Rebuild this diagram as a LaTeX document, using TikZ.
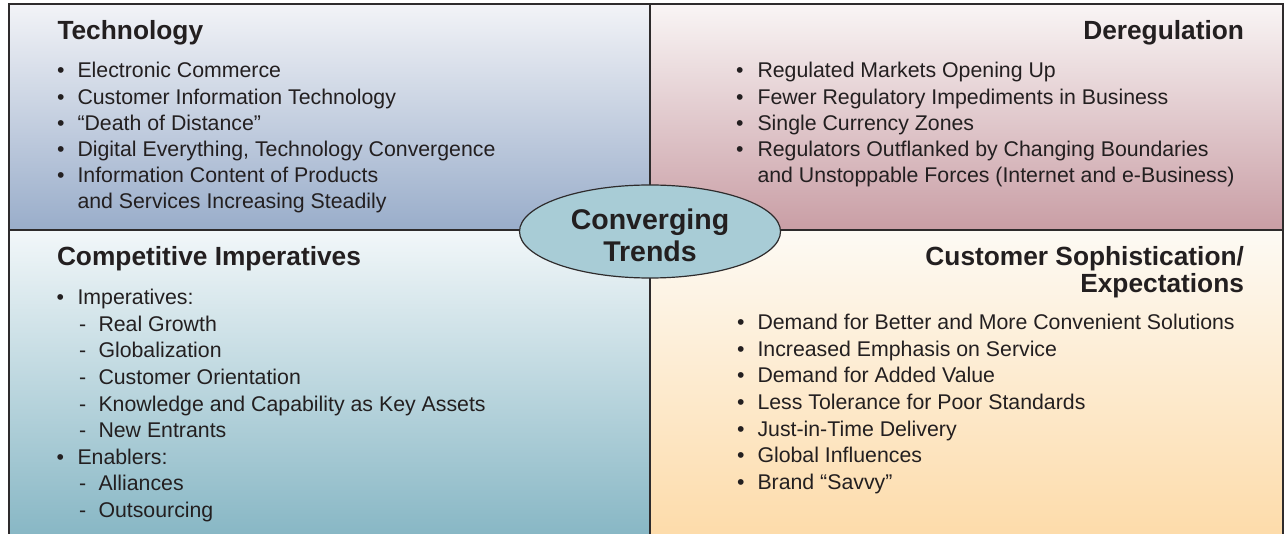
\documentclass[tikz,border=0pt]{standalone}
\usepackage{fontspec}
\setmainfont{Liberation Sans}
\usetikzlibrary{shapes.geometric}
\definecolor{ink}{HTML}{231F20}
\definecolor{frame}{HTML}{2E2B2C}
\definecolor{tltop}{HTML}{F2F3F7}
\definecolor{tlbot}{HTML}{99ADCA}
\definecolor{trtop}{HTML}{F9F5F5}
\definecolor{trbot}{HTML}{C99EA5}
\definecolor{bltop}{HTML}{F2F7F9}
\definecolor{blbot}{HTML}{86B6C4}
\definecolor{brtop}{HTML}{FDFAF4}
\definecolor{brbot}{HTML}{FDDBA9}
\definecolor{ellfill}{HTML}{A8CCD6}
\tikzset{
  txt/.style={anchor=base west, inner sep=0pt, outer sep=0pt, text=ink, font=\fontsize{21.3}{21.3}\selectfont},
  hdl/.style={anchor=base west, inner sep=0pt, outer sep=0pt, text=ink, font=\fontsize{26.3}{26.3}\selectfont\bfseries},
  hdr/.style={anchor=base east, inner sep=0pt, outer sep=0pt, text=ink, font=\fontsize{26.3}{26.3}\selectfont\bfseries},
  border/.style={draw=frame, line width=1.3pt},
}
\begin{document}
\begin{tikzpicture}[x=1pt, y=-1pt]
\useasboundingbox (0,0) rectangle (1285,534);
% quadrants
\shade[top color=tltop, bottom color=tlbot] (9,4) rectangle (650,230);
\shade[top color=trtop, bottom color=trbot] (650,4) rectangle (1283,230);
\shade[top color=bltop, bottom color=blbot] (9,230) rectangle (650,540);
\shade[top color=brtop, bottom color=brbot] (650,230) rectangle (1283,540);
% frame
\draw[border] (9,540) -- (9,4) -- (1283,4) -- (1283,540);
\draw[border] (9,230) -- (1283,230);
\draw[border] (650,4) -- (650,540);
% centre
\node[ellipse, draw=frame, line width=1.2pt, fill=ellfill, minimum width=261pt, minimum height=93pt, inner sep=0pt, align=center, text=ink, font=\fontsize{28.5}{32}\selectfont\bfseries] (ctr) at (650,231.5) {\rule{0pt}{29pt}Converging\\Trends};
% Technology
\node[hdl] (tlh) at (57.5,40) {Technology};
\node[txt] (tlb1) at (57,78) {•};
\node[txt] (tl1) at (77.5,78) {Electronic Commerce};
\node[txt] (tlb2) at (57,104.2) {•};
\node[txt] (tl2) at (77.5,104.2) {Customer Information Technology};
\node[txt] (tlb3) at (57,130.4) {•};
\node[txt] (tl3) at (77.5,130.4) {“Death of Distance”};
\node[txt] (tlb4) at (57,156.6) {•};
\node[txt] (tl4) at (77.5,156.6) {Digital Everything, Technology Convergence};
\node[txt] (tlb5) at (57,182.8) {•};
\node[txt] (tl5) at (77.5,182.8) {Information Content of Products};
\node[txt] (tl6) at (77.5,209) {and Services Increasing Steadily};
% Deregulation
\node[hdr] (trh) at (1244,40) {Deregulation};
\node[txt] (trb1) at (736,78) {•};
\node[txt] (tr1) at (757.5,78) {Regulated Markets Opening Up};
\node[txt] (trb2) at (736,104.2) {•};
\node[txt] (tr2) at (757.5,104.2) {Fewer Regulatory Impediments in Business};
\node[txt] (trb3) at (736,130.4) {•};
\node[txt] (tr3) at (757.5,130.4) {Single Currency Zones};
\node[txt] (trb4) at (736,156.6) {•};
\node[txt] (tr4) at (757.5,156.6) {Regulators Outflanked by Changing Boundaries};
\node[txt] (tr5) at (757.5,182.8) {and Unstoppable Forces (Internet and e-Business)};
% Competitive Imperatives
\node[hdl] (blh) at (57,266) {Competitive Imperatives};
\node[txt] (blb1) at (56.5,305) {•};
\node[txt] (bl1) at (77.5,305) {Imperatives:};
\node[txt] (bld1) at (79,331.5) {-};
\node[txt] (bl2) at (98.5,331.5) {Real Growth};
\node[txt] (bld2) at (79,358) {-};
\node[txt] (bl3) at (98.5,358) {Globalization};
\node[txt] (bld3) at (79,384.5) {-};
\node[txt] (bl4) at (98.5,384.5) {Customer Orientation};
\node[txt] (bld4) at (79,411) {-};
\node[txt] (bl5) at (98.5,411) {Knowledge and Capability as Key Assets};
\node[txt] (bld5) at (79,437.5) {-};
\node[txt] (bl6) at (98.5,437.5) {New Entrants};
\node[txt] (blb2) at (56.5,464) {•};
\node[txt] (bl7) at (77.5,464) {Enablers:};
\node[txt] (bld6) at (79,490.5) {-};
\node[txt] (bl8) at (98.5,490.5) {Alliances};
\node[txt] (bld7) at (79,517) {-};
\node[txt] (bl9) at (98.5,517) {Outsourcing};
% Customer Sophistication
\node[hdr] (brh1) at (1244,265.5) {Customer Sophistication/};
\node[hdr] (brh2) at (1244,292.5) {Expectations};
\node[txt] (brb1) at (737,330) {•};
\node[txt] (br1) at (757.5,330) {Demand for Better and More Convenient Solutions};
\node[txt] (brb2) at (737,356.5) {•};
\node[txt] (br2) at (757.5,356.5) {Increased Emphasis on Service};
\node[txt] (brb3) at (737,383) {•};
\node[txt] (br3) at (757.5,383) {Demand for Added Value};
\node[txt] (brb4) at (737,409.5) {•};
\node[txt] (br4) at (757.5,409.5) {Less Tolerance for Poor Standards};
\node[txt] (brb5) at (737,436) {•};
\node[txt] (br5) at (757.5,436) {Just-in-Time Delivery};
\node[txt] (brb6) at (737,462.5) {•};
\node[txt] (br6) at (757.5,462.5) {Global Influences};
\node[txt] (brb7) at (737,489) {•};
\node[txt] (br7) at (757.5,489) {Brand “Savvy”};
\end{tikzpicture}
\end{document}
